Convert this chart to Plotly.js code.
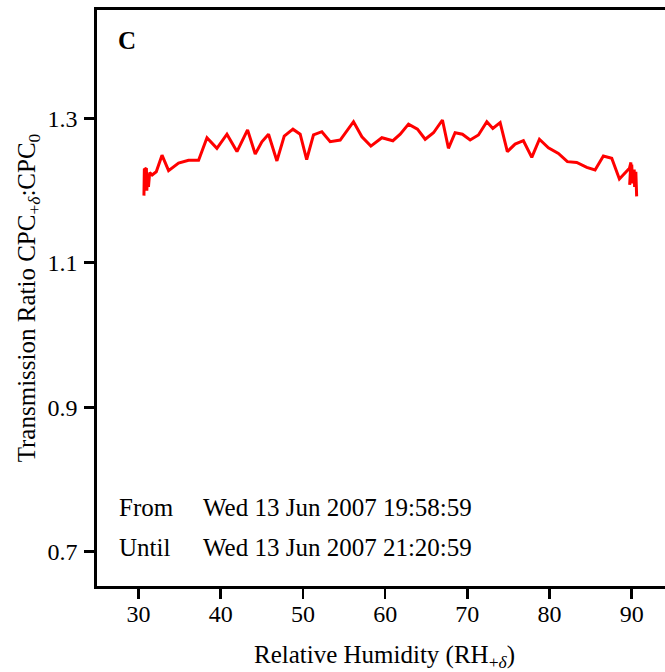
<!DOCTYPE html>
<html>
<head>
<meta charset="utf-8">
<script src="https://cdn.plot.ly/plotly-3.0.1.min.js"></script>
<style>
html, body { margin: 0; padding: 0; overflow: hidden; background: #fff; }
#chart { width: 680px; height: 672px; }
</style>
</head>
<body>
<div id="chart"></div>
<script>
// Relative humidity (RH+δ, %)
const rh = [30.65, 30.7, 30.95, 31.0, 31.1, 31.2, 31.35, 31.65, 32.15, 32.85, 33.65, 34.86, 36.08, 37.3, 38.32, 39.53, 40.75, 41.97, 43.26, 44.19, 45.0, 45.81, 46.83, 47.72, 48.78, 49.66, 50.45, 51.28, 52.3, 53.31, 54.53, 56.15, 57.17, 58.26, 59.6, 60.94, 61.83, 62.84, 63.93, 64.87, 65.88, 66.97, 67.7, 68.51, 69.4, 70.34, 71.35, 72.37, 73.1, 73.99, 74.87, 75.81, 76.82, 77.84, 78.77, 79.86, 81.08, 82.17, 83.31, 84.53, 85.54, 86.55, 87.57, 88.5, 89.72, 89.9, 89.75, 90.0, 90.1, 90.3, 90.35, 90.5, 90.6];
// Transmission ratio CPC+δ : CPC0
const ratio = [1.193, 1.229, 1.231, 1.200, 1.220, 1.205, 1.225, 1.2215, 1.226, 1.249, 1.2275, 1.238, 1.242, 1.242, 1.273, 1.2585, 1.278, 1.254, 1.284, 1.2505, 1.2676, 1.278, 1.241, 1.2755, 1.285, 1.278, 1.243, 1.277, 1.2815, 1.2676, 1.27, 1.2953, 1.2745, 1.2616, 1.2732, 1.269, 1.278, 1.292, 1.285, 1.271, 1.28, 1.2977, 1.2585, 1.28, 1.278, 1.27, 1.277, 1.2953, 1.286, 1.294, 1.254, 1.2644, 1.269, 1.246, 1.271, 1.2593, 1.2515, 1.24, 1.239, 1.232, 1.2284, 1.2478, 1.2446, 1.216, 1.2308, 1.239, 1.208, 1.236, 1.21, 1.229, 1.205, 1.226, 1.192];

const xTicks = [30, 40, 50, 60, 70, 80, 90];
const yTicks = [0.7, 0.9, 1.1, 1.3];
const yTickText = ['0.7', '0.9', '1.1', '1.3'];

const panelLabel = 'C';
const fromLabel = 'From';
const untilLabel = 'Until';
const fromTime = 'Wed 13 Jun 2007 19:58:59';
const untilTime = 'Wed 13 Jun 2007 21:20:59';

const FONT = 'Liberation Serif, Times New Roman, serif';

const trace = {
  x: rh, y: ratio, type: 'scatter', mode: 'lines',
  line: { color: '#ff0000', width: 3 },
  hoverinfo: 'skip'
};

const PL = 96.7, PT = 10, PB = 586, PR = 672;
const pw = PR - PL, ph = PB - PT;
function px2paperX(px) { return (px - PL) / pw; }
function px2paperY(py) { return (PB - py) / ph; }

const annFont = { family: FONT, size: 25, color: '#000' };
const annotations = [
  { text: '<b>' + panelLabel + '</b>', x: px2paperX(116), y: px2paperY(41), xanchor: 'left', yanchor: 'middle' },
  { text: fromLabel, x: px2paperX(117), y: px2paperY(507), xanchor: 'left', yanchor: 'middle' },
  { text: fromTime, x: px2paperX(201), y: px2paperY(507), xanchor: 'left', yanchor: 'middle' },
  { text: untilLabel, x: px2paperX(117), y: px2paperY(547), xanchor: 'left', yanchor: 'middle' },
  { text: untilTime, x: px2paperX(201), y: px2paperY(547), xanchor: 'left', yanchor: 'middle' }
].map(a => Object.assign({ xref: 'paper', yref: 'paper', showarrow: false, font: annFont }, a));

const layout = {
  width: 680, height: 672,
  margin: { l: PL, r: 680 - PR, t: PT, b: 672 - PB, pad: 0 },
  paper_bgcolor: '#fff', plot_bgcolor: '#fff',
  showlegend: false,
  font: { family: FONT, size: 24, color: '#000' },
  xaxis: {
    range: [24.94, 94.9],
    tickmode: 'array', tickvals: xTicks,
    ticks: 'outside', ticklen: 10, tickwidth: 2.6, tickcolor: '#000',
    showline: true, linewidth: 2.6, linecolor: '#000', mirror: true,
    showgrid: false, zeroline: false,
    tickfont: { family: FONT, size: 24, color: '#000' },
    ticklabelstandoff: -5,
    title: { text: 'Relative Humidity (RH<sub>+<i>δ</i></sub>)', font: { family: FONT, size: 25, color: '#000' }, standoff: 24 }
  },
  yaxis: {
    range: [0.6525, 1.45],
    tickmode: 'array', tickvals: yTicks, ticktext: yTickText,
    ticks: 'outside', ticklen: 10, tickwidth: 2.6, tickcolor: '#000',
    showline: true, linewidth: 2.6, linecolor: '#000', mirror: true,
    showgrid: false, zeroline: false,
    tickfont: { family: FONT, size: 24, color: '#000' },
    ticklabelstandoff: 2,
    title: { text: 'Transmission Ratio CPC<sub>+<i>δ</i></sub>:CPC<sub>0</sub>', font: { family: FONT, size: 25, color: '#000' }, standoff: 5 }
  },
  annotations: annotations
};

Plotly.newPlot('chart', [trace], layout, { displayModeBar: false, staticPlot: true });
</script>
</body>
</html>
